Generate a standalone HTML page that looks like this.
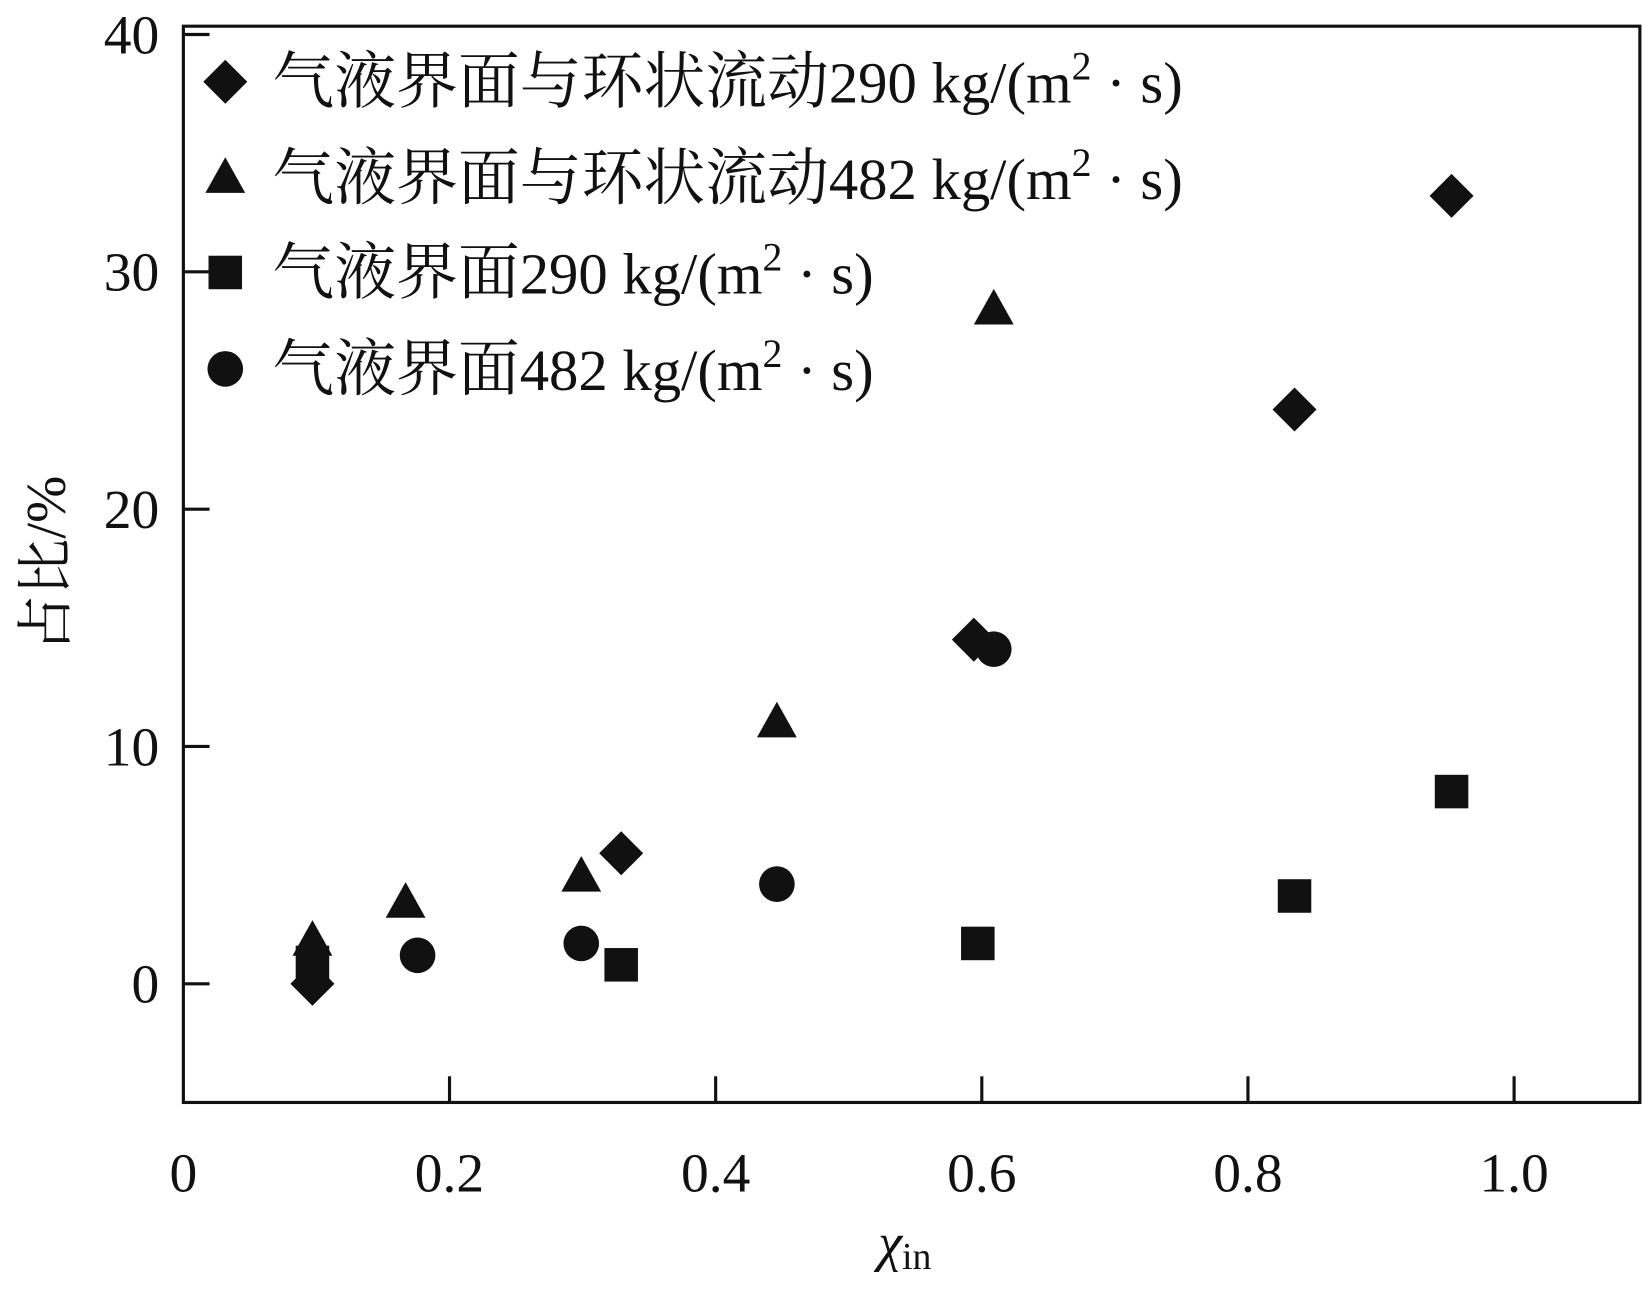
<!DOCTYPE html>
<html><head><meta charset="utf-8"><style>
html,body{margin:0;padding:0;background:#fff;}
svg{display:block;}
text{font-family:"Liberation Serif","Noto Serif CJK SC","Noto Sans CJK SC",serif;fill:#111;}
</style></head><body>
<svg id="chart" width="1643" height="1289" viewBox="0 0 1568 1230" preserveAspectRatio="none" xmlns="http://www.w3.org/2000/svg">
<rect x="175" y="25" width="1390" height="1027" fill="none" stroke="#111" stroke-width="3"/>
<g id="axes"></g>
<g id="marks"></g>
<g id="legend"></g>
<text transform="translate(62,538) rotate(-90)" text-anchor="middle" font-size="54">占比/%</text>
<text x="838" y="1203" font-size="52" font-style="italic">χ<tspan font-style="normal" font-size="36" dy="8">in</tspan></text>
</svg>
<script>
const xTicks=[0,0.2,0.4,0.6,0.8,1.0];
const xTickLabels=["0","0.2","0.4","0.6","0.8","1.0"];
const yTicks=[0,10,20,30,40];
const yTickLabels=["0","10","20","30","40"];
const diamondX=[0.097,0.329,0.594,0.835,0.953];
const diamondY=[0,5.5,14.5,24.2,33.2];
const triangleX=[0.097,0.167,0.299,0.446,0.609];
const triangleY=[1.8,3.4,4.5,11.0,28.4];
const squareX=[0.097,0.329,0.597,0.835,0.953];
const squareY=[0.9,0.8,1.7,3.7,8.1];
const circleX=[0.176,0.299,0.446,0.609];
const circleY=[1.2,1.7,4.2,14.1];
const legendCJK=["气液界面与环状流动","气液界面与环状流动","气液界面","气液界面"];
const legendRates=["290","482","290","482"];

const NS="http://www.w3.org/2000/svg";
const X0=175,X1=1565,Y0=1052,Y1=25;
const xmin=0,xmax=1.0945,ymin=-5,ymax=40.35;
function sx(v){return X0+(v-xmin)/(xmax-xmin)*(X1-X0);}
function sy(v){return Y0-(v-ymin)/(ymax-ymin)*(Y0-Y1);}
function mk(tag,attrs,parent){const e=document.createElementNS(NS,tag);for(const k in attrs)e.setAttribute(k,attrs[k]);parent.appendChild(e);return e;}
const axes=document.getElementById('axes');
xTicks.forEach((t,i)=>{
  if(t>0){const l=mk('line',{x1:sx(t),x2:sx(t),y1:Y0,y2:Y0-25,stroke:'#111','stroke-width':3},axes);
  
  }
  const tx=mk('text',{x:sx(t),y:1137,'text-anchor':'middle','font-size':53},axes);
  tx.textContent=xTickLabels[i];
  
  
});
yTicks.forEach((t,i)=>{
  const l=mk('line',{x1:X0,x2:X0+25,y1:sy(t),y2:sy(t),stroke:'#111','stroke-width':3},axes);
  
  
  const tx=mk('text',{x:152,y:sy(t)+18,'text-anchor':'end','font-size':53},axes);
  tx.textContent=yTickLabels[i];
  
  
});
function diamond(cx,cy,p){return mk('polygon',{points:`${cx},${cy-21} ${cx+21},${cy} ${cx},${cy+21} ${cx-21},${cy}`,fill:'#111'},p);}
function triangle(cx,cy,p){return mk('polygon',{points:`${cx},${cy-20} ${cx+19},${cy+14} ${cx-19},${cy+14}`,fill:'#111'},p);}
function square(cx,cy,p){return mk('rect',{x:cx-16,y:cy-16,width:32,height:32,fill:'#111'},p);}
function circle(cx,cy,p){return mk('circle',{cx:cx,cy:cy,r:17,fill:'#111'},p);}
const marks=document.getElementById('marks');
circleX.forEach((v,i)=>{const e=circle(sx(v),sy(circleY[i]),marks);
  
  });
squareX.forEach((v,i)=>{const e=square(sx(v),sy(squareY[i]),marks);
  
  });
triangleX.forEach((v,i)=>{const e=triangle(sx(v),sy(triangleY[i]),marks);
  
  });
diamondX.forEach((v,i)=>{const e=diamond(sx(v),sy(diamondY[i]),marks);
  
  });
const lg=document.getElementById('legend');
const fns=[diamond,triangle,square,circle];
const ly=[78,170,260,352];
legendCJK.forEach((lab,i)=>{
  const m=fns[i](215,ly[i],lg);
  
  
  const t=mk('text',{x:260,y:ly[i]+20,'font-size':56},lg);
  
  
  const c=mk('tspan',{'font-size':59,textLength:lab.length*59,lengthAdjust:'spacingAndGlyphs'},t);c.textContent=lab;
  const a=mk('tspan',{},t);a.textContent=legendRates[i]+' kg/(m';
  const s=mk('tspan',{'font-size':38,dy:-22},t);s.textContent='2';
  const r=mk('tspan',{dy:22},t);r.textContent=' · s)';
});
</script>
</body></html>
